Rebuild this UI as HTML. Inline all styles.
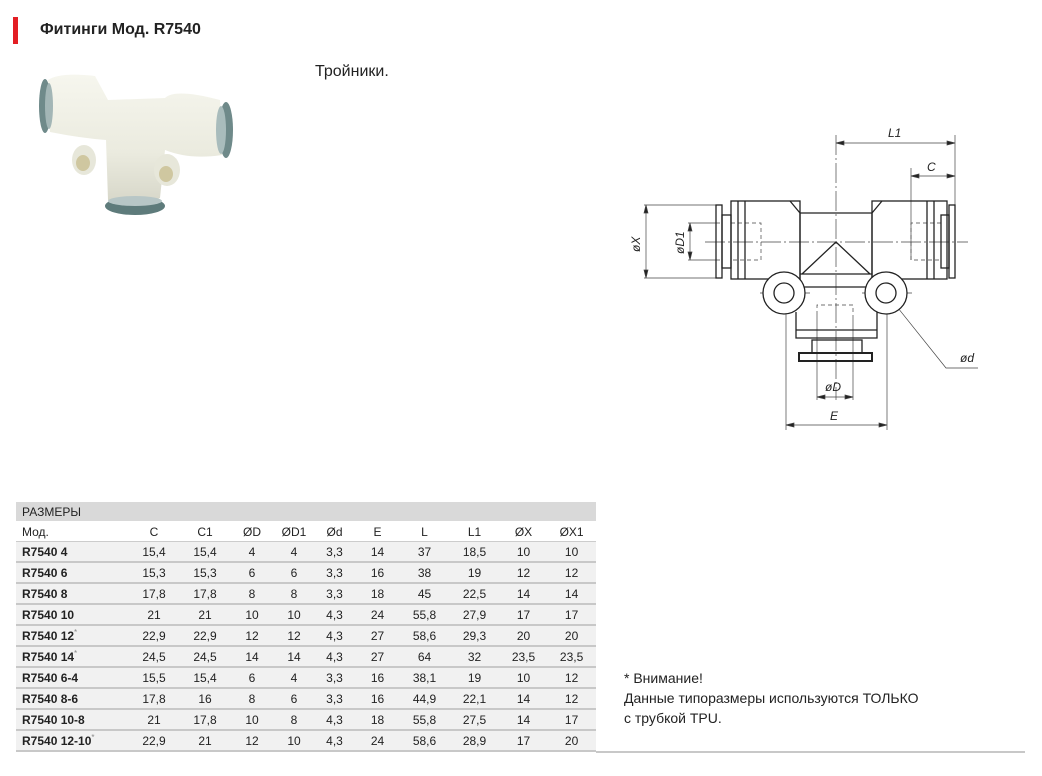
<!DOCTYPE html>
<html><head><meta charset="utf-8"><style>
body{margin:0;width:1042px;height:776px;background:#fff;position:relative;overflow:hidden;font-family:"Liberation Sans","Noto Sans CJK SC",sans-serif;color:#222}
.a{position:absolute}
table{position:absolute;left:16px;top:502px;width:580px;border-collapse:collapse;font-size:12px;table-layout:fixed}
td{height:19px;padding:0;text-align:center;border-bottom:2px solid #c8c8c8;white-space:nowrap}
tr.d td{background:#f1f1f1}
td:first-child{text-align:left;padding-left:6px;font-weight:bold}
tr.h td{background:#d9d9d9;font-weight:normal;border-bottom:1px solid #fff;height:19px}
tr.m td{font-weight:normal;border-bottom:1px solid #ccc}
sup{font-size:8px;color:#888;font-weight:normal}
</style></head><body>
<div class="a" style="left:13px;top:17px;width:5px;height:27px;background:#e31e24"></div>
<div class="a" style="left:40px;top:21px;font-size:16px;font-weight:bold;color:#222">Фитинги Мод. R7540</div>
<div class="a" style="left:315px;top:63px;font-size:16px">Тройники.</div>
<svg class="a" style="left:0;top:0" width="260" height="230">
<defs><linearGradient id="g" x1="0" y1="0" x2="0" y2="1"><stop offset="0" stop-color="#f6f6ee"/><stop offset=".6" stop-color="#ebebdf"/><stop offset="1" stop-color="#d6d6c8"/></linearGradient></defs>
<path d="M48 80 Q60 72 95 76 L108 100 L165 98 Q175 88 220 100 L222 155 Q190 160 165 150 L160 198 Q135 210 108 200 L106 140 Q80 138 50 132 Z" fill="url(#g)"/>
<ellipse cx="45" cy="106" rx="6" ry="27" fill="#6f8a8a"/><ellipse cx="49" cy="106" rx="4" ry="23" fill="#a3b6b6"/>
<ellipse cx="226" cy="130" rx="7" ry="28" fill="#6f8a8a"/><ellipse cx="221" cy="130" rx="5" ry="24" fill="#a9bcbc"/>
<ellipse cx="135" cy="206" rx="30" ry="9" fill="#5e7b7b"/><ellipse cx="135" cy="201" rx="27" ry="5" fill="#b7c6c6"/>
<ellipse cx="84" cy="160" rx="12" ry="15" fill="#e7e7da"/><ellipse cx="83" cy="163" rx="7" ry="8" fill="#cfc7a0"/>
<ellipse cx="167" cy="170" rx="13" ry="16" fill="#e7e7da"/><ellipse cx="166" cy="174" rx="7" ry="8" fill="#cfc7a0"/>
</svg>
<svg class="a" style="left:0;top:0" width="1042" height="500" fill="none" stroke="#222" stroke-width="1.3">
<g stroke-width="0.7" stroke="#444">
<line x1="836" y1="135" x2="836" y2="400" stroke-dasharray="20 3 2 3"/>
<line x1="705" y1="242" x2="968" y2="242" stroke-dasharray="20 3 2 3"/>
<line x1="955" y1="135" x2="955" y2="205"/>
<line x1="911" y1="168" x2="911" y2="260"/>
<line x1="836" y1="143" x2="955" y2="143"/><path d="M836 143l8-2v4zM955 143l-8-2v4z" fill="#222"/>
<line x1="911" y1="176" x2="955" y2="176"/><path d="M911 176l8-2v4zM955 176l-8-2v4z" fill="#222"/>
<line x1="644" y1="205" x2="716" y2="205"/><line x1="644" y1="278" x2="716" y2="278"/>
<line x1="646" y1="205" x2="646" y2="278"/><path d="M646 205l-2 8h4zM646 278l-2-8h4z" fill="#222"/>
<line x1="688" y1="223" x2="720" y2="223"/><line x1="688" y1="260" x2="720" y2="260"/>
<line x1="690" y1="223" x2="690" y2="260"/><path d="M690 223l-2 8h4zM690 260l-2-8h4z" fill="#222"/>
<line x1="817" y1="315" x2="817" y2="400"/><line x1="853" y1="315" x2="853" y2="400"/>
<line x1="817" y1="397" x2="853" y2="397"/><path d="M817 397l8-2v4zM853 397l-8-2v4z" fill="#222"/>
<line x1="786" y1="295" x2="786" y2="430"/><line x1="887" y1="295" x2="887" y2="430"/>
<line x1="786" y1="425" x2="887" y2="425"/><path d="M786 425l8-2v4zM887 425l-8-2v4z" fill="#222"/>
<polyline points="886,293 946,368 978,368"/>
<line x1="760" y1="293" x2="810" y2="293"/><line x1="862" y1="293" x2="912" y2="293"/>
<path d="M731 223h30v37h-30M941 223h-30v37h30M817 315v-10h36v10" stroke-dasharray="4 3"/>
</g>
<rect x="716" y="205" width="6" height="73"/><rect x="722" y="215" width="9" height="53"/>
<rect x="731" y="201" width="69" height="78"/><line x1="738" y1="201" x2="738" y2="279"/><line x1="745" y1="201" x2="745" y2="279"/>
<path d="M790 201l10 12h72l10-12M800 213v74M872 213v74"/>
<rect x="872" y="201" width="75" height="78"/><line x1="927" y1="201" x2="927" y2="279"/><line x1="934" y1="201" x2="934" y2="279"/>
<rect x="941" y="215" width="8" height="53"/><rect x="949" y="205" width="6" height="73"/>
<path d="M800 274h72M800 287h72M802 274l34-32 34 32"/>
<circle cx="784" cy="293" r="21" fill="#fff"/><circle cx="784" cy="293" r="10"/>
<circle cx="886" cy="293" r="21" fill="#fff"/><circle cx="886" cy="293" r="10"/>
<path d="M796 312v26h81v-26M796 330h81M796 338h81"/>
<rect x="812" y="340" width="50" height="13"/><rect x="799" y="353" width="73" height="8" stroke-width="2"/>
<g fill="#222" stroke="none" font-family="Liberation Sans" font-style="italic" font-size="12">
<text x="888" y="137">L1</text><text x="927" y="171">C</text><text x="960" y="362">ød</text>
<text x="825" y="391">øD</text><text x="830" y="420">E</text>
<text transform="translate(640,252) rotate(-90)">øX</text><text transform="translate(684,254) rotate(-90)">øD1</text>
</g>
</svg>
<table>
<colgroup><col style="width:112px"><col style="width:52px"><col style="width:50px"><col style="width:44px"><col style="width:40px"><col style="width:41px"><col style="width:45px"><col style="width:49px"><col style="width:51px"><col style="width:47px"><col style="width:49px"></colgroup>
<tr class="h"><td style="font-weight:normal" colspan="11">РАЗМЕРЫ</td></tr>
<tr class="m"><td style="font-weight:normal">Мод.</td><td>C</td><td>C1</td><td>ØD</td><td>ØD1</td><td>Ød</td><td>E</td><td>L</td><td>L1</td><td>ØX</td><td>ØX1</td></tr>
<tr class="d"><td>R7540 4</td><td>15,4</td><td>15,4</td><td>4</td><td>4</td><td>3,3</td><td>14</td><td>37</td><td>18,5</td><td>10</td><td>10</td></tr>
<tr class="d"><td>R7540 6</td><td>15,3</td><td>15,3</td><td>6</td><td>6</td><td>3,3</td><td>16</td><td>38</td><td>19</td><td>12</td><td>12</td></tr>
<tr class="d"><td>R7540 8</td><td>17,8</td><td>17,8</td><td>8</td><td>8</td><td>3,3</td><td>18</td><td>45</td><td>22,5</td><td>14</td><td>14</td></tr>
<tr class="d"><td>R7540 10</td><td>21</td><td>21</td><td>10</td><td>10</td><td>4,3</td><td>24</td><td>55,8</td><td>27,9</td><td>17</td><td>17</td></tr>
<tr class="d"><td>R7540 12<sup>*</sup></td><td>22,9</td><td>22,9</td><td>12</td><td>12</td><td>4,3</td><td>27</td><td>58,6</td><td>29,3</td><td>20</td><td>20</td></tr>
<tr class="d"><td>R7540 14<sup>*</sup></td><td>24,5</td><td>24,5</td><td>14</td><td>14</td><td>4,3</td><td>27</td><td>64</td><td>32</td><td>23,5</td><td>23,5</td></tr>
<tr class="d"><td>R7540 6-4</td><td>15,5</td><td>15,4</td><td>6</td><td>4</td><td>3,3</td><td>16</td><td>38,1</td><td>19</td><td>10</td><td>12</td></tr>
<tr class="d"><td>R7540 8-6</td><td>17,8</td><td>16</td><td>8</td><td>6</td><td>3,3</td><td>16</td><td>44,9</td><td>22,1</td><td>14</td><td>12</td></tr>
<tr class="d"><td>R7540 10-8</td><td>21</td><td>17,8</td><td>10</td><td>8</td><td>4,3</td><td>18</td><td>55,8</td><td>27,5</td><td>14</td><td>17</td></tr>
<tr class="d"><td>R7540 12-10<sup>*</sup></td><td>22,9</td><td>21</td><td>12</td><td>10</td><td>4,3</td><td>24</td><td>58,6</td><td>28,9</td><td>17</td><td>20</td></tr>
</table>
<div class="a" style="left:596px;top:751px;width:429px;height:2px;background:#c8c8c8"></div>
<div class="a" style="left:624px;top:668px;font-size:14px;line-height:20px">* Внимание!<br>Данные типоразмеры используются ТОЛЬКО<br>с трубкой TPU.</div>
</body></html>
